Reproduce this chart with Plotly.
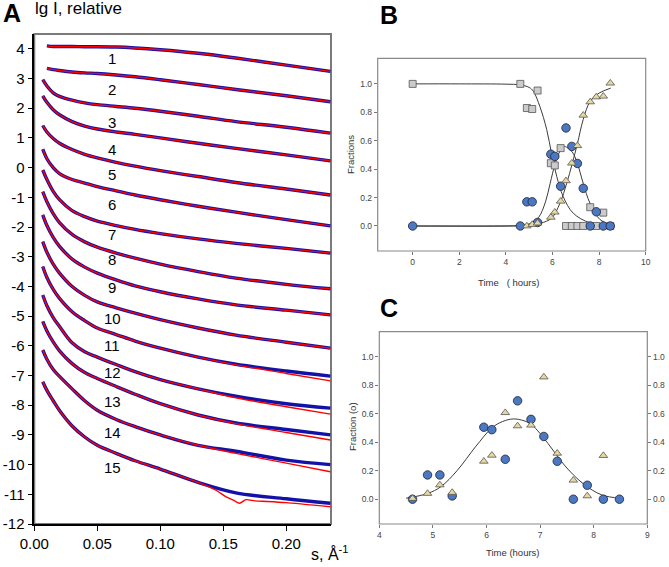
import plotly.graph_objects as go

W, H = 669, 567
FONT = "Arial, Liberation Sans, sans-serif"

# ---------------- Panel A data (s in 1/Angstrom, lg I) ----------------
S = [0.0067, 0.01, 0.015, 0.02, 0.03, 0.04, 0.05, 0.065, 0.08, 0.10, 0.13, 0.16, 0.20, 0.235]

FIT_1 = [None, 4.10, 4.08, 4.08, 4.08, 4.07, 4.07, 4.06, 4.03, 3.97, 3.85, 3.69, 3.45, 3.24]
FIT_2 = [None, 3.34, 3.30, 3.27, 3.22, 3.19, 3.17, 3.12, 3.06, 2.96, 2.80, 2.63, 2.42, 2.22]
FIT_3 = [2.96, 2.75, 2.52, 2.40, 2.27, 2.18, 2.12, 2.06, 2.00, 1.90, 1.73, 1.55, 1.36, 1.16]
FIT_4 = [2.42, 2.20, 1.95, 1.78, 1.55, 1.40, 1.30, 1.20, 1.12, 1.00, 0.82, 0.65, 0.43, 0.23]
FIT_5 = [1.42, 1.20, 0.98, 0.82, 0.61, 0.45, 0.33, 0.18, 0.05, -0.10, -0.30, -0.50, -0.72, -0.92]
FIT_6 = [0.62, 0.30, 0.00, -0.20, -0.40, -0.52, -0.64, -0.78, -0.92, -1.08, -1.30, -1.50, -1.75, -1.96]
FIT_7 = [-0.08, -0.40, -0.80, -1.08, -1.45, -1.65, -1.80, -1.95, -2.08, -2.22, -2.40, -2.55, -2.72, -2.88]
FIT_8 = [-0.81, -1.15, -1.55, -1.85, -2.25, -2.50, -2.68, -2.88, -3.05, -3.25, -3.50, -3.72, -3.93, -4.08]
FIT_9 = [-1.59, -1.95, -2.35, -2.65, -3.08, -3.35, -3.55, -3.78, -3.98, -4.18, -4.42, -4.62, -4.80, -4.96]
FIT_10 = [-2.49, -2.85, -3.25, -3.55, -4.00, -4.30, -4.52, -4.72, -4.90, -5.12, -5.40, -5.64, -5.88, -6.08]
FIT_11 = [-3.33, -3.70, -4.10, -4.40, -4.85, -5.15, -5.40, -5.62, -5.84, -6.08, -6.38, -6.64, -6.93, -7.18]
FIT_12 = [-4.29, -4.65, -5.05, -5.35, -5.90, -6.20, -6.38, -6.63, -6.87, -7.14, -7.45, -7.75, -8.05, -8.30]
FIT_13 = [-5.18, -5.50, -5.87, -6.17, -6.60, -6.90, -7.10, -7.37, -7.63, -7.95, -8.33, -8.62, -8.92, -9.17]
FIT_14 = [-6.14, -6.45, -6.80, -7.03, -7.45, -7.85, -8.17, -8.48, -8.72, -9.00, -9.35, -9.62, -9.95, -10.24]
S_15 = [0.0067, 0.01, 0.015, 0.02, 0.03, 0.04, 0.05, 0.065, 0.08, 0.10, 0.13, 0.145,
        0.152, 0.158, 0.163, 0.168, 0.175, 0.185, 0.20, 0.235]
FIT_15 = [-7.21, -7.50, -7.85, -8.18, -8.70, -9.07, -9.35, -9.62, -9.87, -10.15, -10.60, -10.88,
          -11.08, -11.20, -11.30, -11.18, -11.22, -11.24, -11.28, -11.42]

# measured data (blue); where it visibly departs from the fit it has its own list
DATA_11 = [-3.33, -3.70, -4.10, -4.40, -4.85, -5.15, -5.40, -5.62, -5.84, -6.08, -6.38, -6.62, -6.85, -7.02]
DATA_12 = [-4.29, -4.65, -5.05, -5.35, -5.90, -6.20, -6.38, -6.63, -6.87, -7.14, -7.45, -7.70, -7.95, -8.10]
DATA_13 = [-5.18, -5.50, -5.87, -6.17, -6.60, -6.90, -7.10, -7.37, -7.63, -7.95, -8.33, -8.60, -8.82, -9.00]
DATA_14 = [-6.14, -6.45, -6.80, -7.03, -7.45, -7.85, -8.17, -8.48, -8.72, -9.00, -9.35, -9.55, -9.85, -10.00]
DATA_15 = [-7.21, -7.50, -7.85, -8.18, -8.70, -9.07, -9.35, -9.62, -9.87, -10.15, -10.60, -10.95, -11.15, -11.30]

FITS = [FIT_1, FIT_2, FIT_3, FIT_4, FIT_5, FIT_6, FIT_7, FIT_8, FIT_9, FIT_10,
        FIT_11, FIT_12, FIT_13, FIT_14, FIT_15]
DATAS = [FIT_1, FIT_2, FIT_3, FIT_4, FIT_5, FIT_6, FIT_7, FIT_8, FIT_9, FIT_10,
         DATA_11, DATA_12, DATA_13, DATA_14, DATA_15]
CURVE_LABELS = [str(i) for i in range(1, 16)]
LABEL_S = 0.0617
LABEL_Y = [3.66, 2.62, 1.51, 0.60, -0.24, -1.25, -2.26, -3.10, -4.02, -5.09,
           -6.00, -6.91, -7.89, -8.93, -10.11]

# ---------------- Panel B data ----------------
T_B = [0, 4.62, 4.90, 5.13, 5.36, 5.93, 6.10, 6.35, 6.58, 6.83, 7.07, 7.32, 7.62, 7.88, 8.18, 8.48]
SQUARES_B = [1.0, 1.0, 0.83, 0.823, 0.953, 0.442, 0.426, 0.548, 0.0, 0.0, 0.0, 0.0, 0.132, 0.0, 0.094, 0.0]
CIRCLES_B = [0.0, 0.0, 0.17, 0.17, 0.025, 0.505, 0.49, 0.28, 0.69, 0.56, 0.44, 0.265, 0.0, 0.10, 0.0, 0.0]
T_TRI_B = [4.90, 5.13, 5.36, 5.93, 6.10, 6.35, 6.58, 6.83, 7.07, 7.32, 7.62, 7.88, 8.18, 8.48]
TRIANGLES_B = [0.0, 0.01, 0.02, 0.061, 0.097, 0.174, 0.318, 0.442, 0.565, 0.779, 0.873, 0.908, 0.913, 1.005]

SQ_FIT_T = [0, 2, 4, 4.6, 5.0, 5.18, 5.46, 5.75, 5.96, 6.18, 6.46, 6.89, 7.6, 8.5]
SQ_FIT_Y = [1.0, 1.0, 0.998, 0.993, 0.975, 0.948, 0.84, 0.68, 0.51, 0.35, 0.207, 0.09, 0.023, 0.005]
TRI_FIT_T = [0, 4, 4.6, 5.0, 5.5, 5.96, 6.32, 6.61, 6.85, 7.07, 7.32, 7.61, 8.0, 8.5]
TRI_FIT_Y = [0, 0.0, 0.002, 0.007, 0.02, 0.055, 0.16, 0.30, 0.44, 0.58, 0.75, 0.875, 0.935, 0.97]
BELL_B_T = [0, 4, 4.6, 5.0, 5.4, 5.7, 5.9, 6.1, 6.3, 6.47, 6.65, 6.85, 7.05, 7.32, 7.61, 8.04, 8.5]
BELL_B_Y = [0, 0.0, 0.003, 0.015, 0.06, 0.17, 0.30, 0.43, 0.52, 0.56, 0.55, 0.52, 0.45, 0.30, 0.16, 0.045, 0.008]

# ---------------- Panel C data ----------------
T_C = [4.62, 4.90, 5.13, 5.36, 5.95, 6.10, 6.35, 6.58, 6.83, 7.07, 7.32, 7.62, 7.88, 8.18, 8.48]
CIRCLES_C = [0.0, 0.17, 0.17, 0.023, 0.505, 0.488, 0.28, 0.69, 0.56, 0.44, 0.266, 0.0, 0.098, 0.0, 0.0]
T_TRI_C = [4.62, 4.90, 5.13, 5.36, 5.95, 6.10, 6.35, 6.58, 6.83, 7.07, 7.32, 7.62, 7.88, 8.18]
TRIANGLES_C = [0.005, 0.04, 0.10, 0.047, 0.266, 0.308, 0.607, 0.514, 0.519, 0.857, 0.322, 0.133, 0.023, 0.306]
C_FIT_T = [4.5, 4.9, 5.15, 5.45, 5.8, 6.1, 6.3, 6.5, 6.7, 6.85, 7.15, 7.45, 7.8, 8.15, 8.5]
C_FIT_Y = [0.007, 0.04, 0.088, 0.2, 0.37, 0.50, 0.545, 0.563, 0.55, 0.52, 0.39, 0.24, 0.11, 0.03, 0.007]

BLUE = "#1212a8"
RED = "#ff0000"
CIRCLE_FILL = "#4a78c2"
SQUARE_FILL = "#cbcbcb"
TRI_FILL = "#e6d7a0"
FIT_LINE = "#3c3c3c"


def px(x):
    return x / W


def py(y):
    return 1 - y / H


fig = go.Figure()

# Panel A
for i in range(15):
    sx = S_15 if i == 14 else S
    fig.add_trace(go.Scatter(x=S, y=DATAS[i], mode="lines", line=dict(color=BLUE, width=3.4, shape="spline"),
                             xaxis="x", yaxis="y", showlegend=False, hoverinfo="skip"))
    fig.add_trace(go.Scatter(x=sx, y=FITS[i], mode="lines",
                             line=dict(color=RED, width=1.4, shape="spline", smoothing=0.6 if i == 14 else 1.0),
                             xaxis="x", yaxis="y", showlegend=False, hoverinfo="skip"))

# Panel B
for t, y in [(SQ_FIT_T, SQ_FIT_Y), (TRI_FIT_T, TRI_FIT_Y), (BELL_B_T, BELL_B_Y)]:
    fig.add_trace(go.Scatter(x=t, y=y, mode="lines", line=dict(color=FIT_LINE, width=1, shape="spline"),
                             xaxis="x2", yaxis="y2", showlegend=False, hoverinfo="skip"))
fig.add_trace(go.Scatter(x=T_B, y=SQUARES_B, mode="markers", xaxis="x2", yaxis="y2", showlegend=False,
                         marker=dict(symbol="square", size=7, color=SQUARE_FILL, line=dict(color="#555", width=0.8))))
fig.add_trace(go.Scatter(x=T_B, y=CIRCLES_B, mode="markers", xaxis="x2", yaxis="y2", showlegend=False,
                         marker=dict(symbol="circle", size=8.5, color=CIRCLE_FILL, line=dict(color="#223", width=0.8))))
fig.add_trace(go.Scatter(x=T_TRI_B, y=TRIANGLES_B, mode="markers", xaxis="x2", yaxis="y2", showlegend=False,
                         marker=dict(symbol="triangle-up", size=7.5, color=TRI_FILL, line=dict(color="#555", width=0.8))))

# Panel C
fig.add_trace(go.Scatter(x=C_FIT_T, y=C_FIT_Y, mode="lines", line=dict(color=FIT_LINE, width=1, shape="spline"),
                         xaxis="x3", yaxis="y3", showlegend=False, hoverinfo="skip"))
fig.add_trace(go.Scatter(x=T_C, y=CIRCLES_C, mode="markers", xaxis="x3", yaxis="y3", showlegend=False,
                         marker=dict(symbol="circle", size=8.5, color=CIRCLE_FILL, line=dict(color="#223", width=0.8))))
fig.add_trace(go.Scatter(x=T_TRI_C, y=TRIANGLES_C, mode="markers", xaxis="x3", yaxis="y4", showlegend=False,
                         marker=dict(symbol="triangle-up", size=7.5, color=TRI_FILL, line=dict(color="#555", width=0.8))))

small_tick = dict(family=FONT, size=8.5, color="#444")
axB = dict(showgrid=False, zeroline=False, showline=False, ticks="outside", ticklen=3, tickcolor="#777",
           tickfont=small_tick, automargin=False)
big_tick = dict(family=FONT, size=15, color="black")

fig.update_layout(
    template="none",
    width=W, height=H, margin=dict(l=0, r=0, t=0, b=0, pad=0), autosize=False,
    paper_bgcolor="white", plot_bgcolor="white",
    font=dict(family=FONT),
    xaxis=dict(domain=[px(34.3), px(331)], range=[0, 0.2355], anchor="y", automargin=False,
               tickvals=[0, 0.05, 0.10, 0.15, 0.20], tickformat=".2f",
               showgrid=False, zeroline=False, showline=True, linecolor="black", linewidth=1.5,
               ticks="outside", ticklen=5, tickcolor="black", tickfont=big_tick),
    yaxis=dict(domain=[py(524), py(34)], range=[-12, 4.5], anchor="x", automargin=False,
               tickvals=list(range(-12, 5)), ticktext=[str(v) for v in range(-12, 5)],
               showgrid=False, zeroline=False, showline=True, linecolor="black", linewidth=1.5,
               ticks="outside", ticklen=5, tickcolor="black", tickfont=big_tick),
    xaxis2=dict(domain=[px(377.7), px(645.7)], range=[-1.5, 10], anchor="y2",
                tickvals=[0, 2, 4, 6, 8, 10], **axB),
    yaxis2=dict(domain=[py(251), py(58.3)], range=[-0.176, 1.18], anchor="x2",
                tickvals=[0, 0.2, 0.4, 0.6, 0.8, 1.0], tickformat=".1f", **axB),
    xaxis3=dict(domain=[px(379.3), px(647.3)], range=[4, 9], anchor="y3",
                tickvals=[4, 5, 6, 7, 8, 9], **axB),
    yaxis3=dict(domain=[py(524), py(331.7)], range=[-0.174, 1.175], anchor="x3",
                tickvals=[0, 0.2, 0.4, 0.6, 0.8, 1.0], tickformat=".1f", **axB),
    yaxis4=dict(range=[-0.174, 1.175], overlaying="y3", side="right", anchor="x3",
                tickvals=[0, 0.2, 0.4, 0.6, 0.8, 1.0], tickformat=".1f", **axB),
)

# frames
fig.add_shape(type="rect", xref="x domain", yref="y domain", x0=0, x1=1, y0=0, y1=1,
              line=dict(color="#7a7a7a", width=2), layer="below")
for xr, yr in [("x2 domain", "y2 domain"), ("x3 domain", "y3 domain")]:
    fig.add_shape(type="rect", xref=xr, yref=yr, x0=0, x1=1, y0=0, y1=1,
                  line=dict(color="#8a8a8a", width=1.2), layer="above")

ann = []
for lab, ly in zip(CURVE_LABELS, LABEL_Y):
    ann.append(dict(x=LABEL_S, y=ly, xref="x", yref="y", text=lab, showarrow=False,
                    font=dict(family=FONT, size=15, color="black")))


def pann(text, x, y, size, xanchor="center", yanchor="middle", angle=0, color="black"):
    ann.append(dict(x=px(x), y=py(y), xref="paper", yref="paper", text=text, showarrow=False,
                    xanchor=xanchor, yanchor=yanchor, textangle=angle,
                    font=dict(family=FONT, size=size, color=color)))


pann("<b>A</b>", 1, 13, 25, xanchor="left")
pann("lg I, relative", 33, 9, 17, xanchor="left")
pann("s, Å<sup>-1</sup>", 309, 553, 16, xanchor="left")
pann("<b>B</b>", 378, 15, 25, xanchor="left")
pann("<b>C</b>", 378, 308, 25, xanchor="left")
pann("Fractions", 350, 155, 9.5, angle=-90, color="#333")
pann("Time   ( hours)", 508, 282, 9.5, color="#333")
pann("Fraction (o)", 352, 427, 9.5, angle=-90, color="#333")
pann("Time (hours)", 513, 552, 9.5, color="#333")
fig.update_layout(annotations=ann)

fig.write_html("out.html", config={"displayModeBar": False},
               post_script="document.body.style.margin='0px';document.body.style.padding='0px';"
                           "document.body.style.overflow='hidden';")
